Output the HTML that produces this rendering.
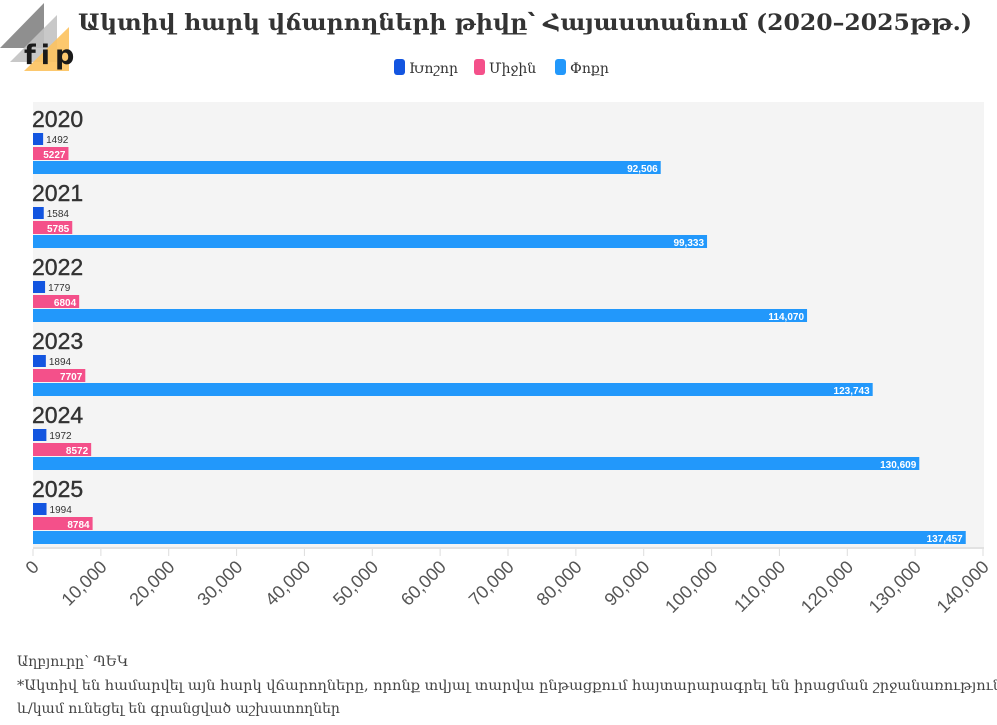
<!DOCTYPE html>
<html><head><meta charset="utf-8"><style>
body{margin:0;background:#fff;width:997px;height:720px;overflow:hidden;font-family:"Liberation Sans","DejaVu Sans",sans-serif;}
</style></head><body>
<svg width="997" height="720" xmlns="http://www.w3.org/2000/svg" font-family="Liberation Sans, DejaVu Sans, sans-serif">
<polygon points="0,48 44,3 44,48" fill="#8f8f8f"/>
<polygon points="10,62 57,15 57,62" fill="#c2c2c2" opacity="0.9"/>
<polygon points="24,71 69,27 69,71" fill="#fcc25e" opacity="0.9"/>
<text x="24" y="64" font-size="27" font-weight="bold" fill="#1a1a1a" font-family="DejaVu Sans, sans-serif" letter-spacing="5">fip</text>
<text x="78" y="30" font-size="22" font-weight="bold" fill="#333" font-family="DejaVu Serif, serif" textLength="894" lengthAdjust="spacingAndGlyphs">Ակտիվ հարկ վճարողների թիվը՝ Հայաստանում (2020–2025թթ.)</text>
<rect x="394" y="59" width="11" height="16" rx="3" fill="#1355e0"/><text x="409" y="73" font-size="14" fill="#333" font-family="DejaVu Serif, serif">Խոշոր</text>
<rect x="474" y="59" width="11" height="16" rx="3" fill="#f4508a"/><text x="489" y="73" font-size="14" fill="#333" font-family="DejaVu Serif, serif">Միջին</text>
<rect x="555" y="59" width="11" height="16" rx="3" fill="#2298fb"/><text x="570" y="73" font-size="14" fill="#333" font-family="DejaVu Serif, serif">Փոքր</text>
<rect x="33" y="102" width="951" height="446" fill="#f4f4f4"/>
<g id="bars"></g>
<line x1="33" y1="548" x2="984" y2="548" stroke="#e2e2e2" stroke-width="2"/>
<g id="ticks"></g>
<text x="17" y="666" font-size="14" fill="#444" font-family="DejaVu Serif, serif">Աղբյուրը՝ ՊԵԿ</text>
<text x="17" y="690" font-size="14" fill="#444" font-family="DejaVu Serif, serif" textLength="985" lengthAdjust="spacingAndGlyphs">*Ակտիվ են համարվել այն հարկ վճարողները, որոնք տվյալ տարվա ընթացքում հայտարարագրել են իրացման շրջանառություն</text>
<text x="17" y="713" font-size="14" fill="#444" font-family="DejaVu Serif, serif">և/կամ ունեցել են գրանցված աշխատողներ</text>
</svg>
<script>
var d=[[2020,1492,5227,92506],[2021,1584,5785,99333],[2022,1779,6804,114070],[2023,1894,7707,123743],[2024,1972,8572,130609],[2025,1994,8784,137457]];
var s=950/140000,x0=33,g=document.getElementById("bars"),h="";
function f(n){return n.toLocaleString("en-US");}
d.forEach(function(r,i){var y=102+i*74;
h+='<text x="32" y="'+(y+25)+'" font-size="23" fill="#333" stroke="#333" stroke-width="0.4">'+r[0]+'</text>';
var w1=r[1]*s,w2=r[2]*s,w3=r[3]*s;
h+='<rect x="33" y="'+(y+31)+'" width="'+w1+'" height="12" fill="#1355e0"/>';
h+='<text x="'+(36+w1)+'" y="'+(y+41)+'" font-size="10" fill="#333">'+r[1]+'</text>';
h+='<rect x="33" y="'+(y+45)+'" width="'+w2+'" height="13" fill="#f4508a"/>';
h+='<text x="'+(30+w2)+'" y="'+(y+56)+'" font-size="10" font-weight="bold" fill="#fff" text-anchor="end">'+r[2]+'</text>';
h+='<rect x="33" y="'+(y+59)+'" width="'+w3+'" height="13" fill="#2298fb"/>';
h+='<text x="'+(30+w3)+'" y="'+(y+70)+'" font-size="10" font-weight="bold" fill="#fff" text-anchor="end">'+f(r[3])+'</text>';
});
g.innerHTML=h;h="";
for(var v=0;v<=140000;v+=10000){var x=x0+v*s;
h+='<line x1="'+x+'" y1="549" x2="'+x+'" y2="556" stroke="#ddd"/>';
h+='<text transform="translate('+(x+7)+',568) rotate(-45)" font-size="18" fill="#555" text-anchor="end">'+f(v)+'</text>';}
document.getElementById("ticks").innerHTML=h;
</script>
</body></html>
